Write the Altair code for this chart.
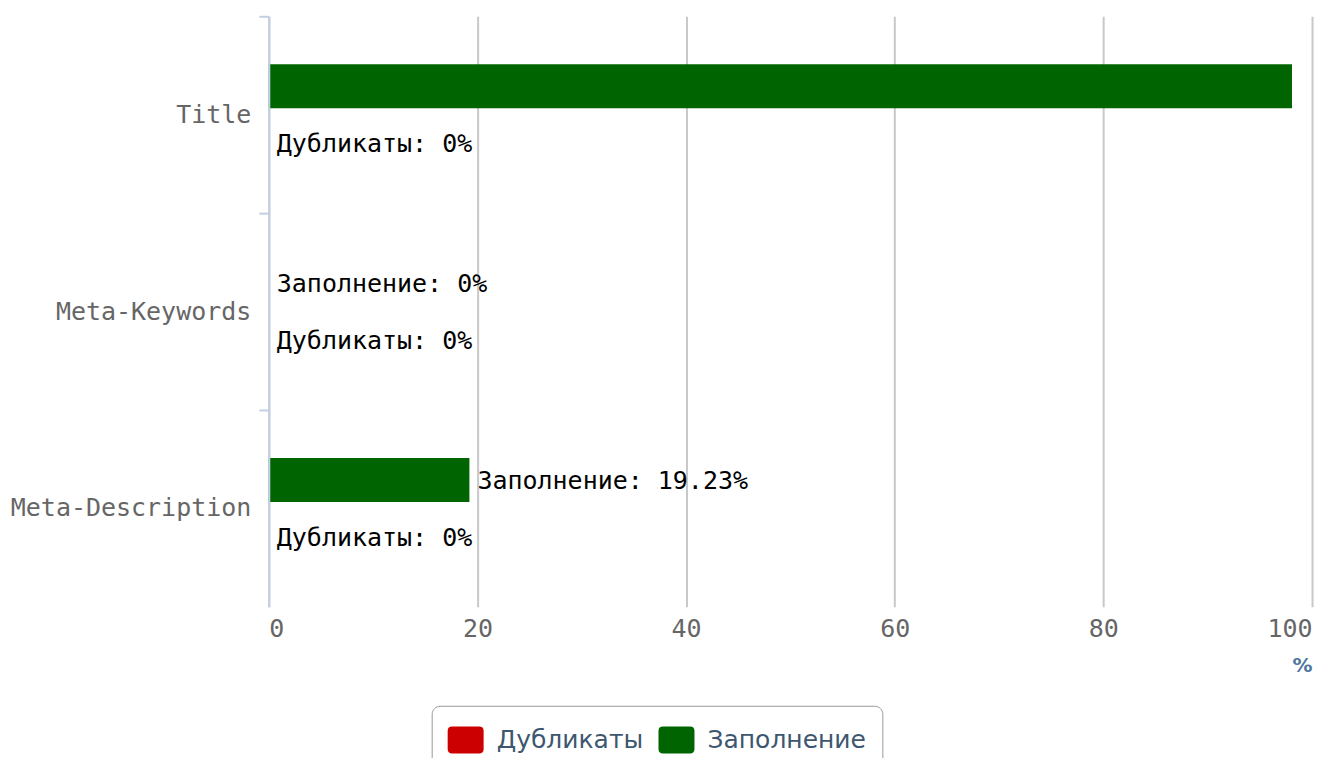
import altair as alt
import pandas as pd

categories = ["Title", "Meta-Keywords", "Meta-Description"]
series = ["Заполнение", "Дубликаты"]
fill_values = [98.08, 0, 19.23]
dup_values = [0, 0, 0]

legend_order = ["Дубликаты", "Заполнение"]
colors = ["#CC0000", "#006400"]

rows = []
for c, f, d in zip(categories, fill_values, dup_values):
    rows.append({"category": c, "series": "Заполнение", "value": f,
                 "label": f"Заполнение: {f:g}%"})
    rows.append({"category": c, "series": "Дубликаты", "value": d,
                 "label": f"Дубликаты: {d:g}%"})
df = pd.DataFrame(rows)

MONO = "DejaVu Sans Mono"
rounded = ("M-0.75,-0.75 H0.75 Q1,-0.75 1,-0.5 V0.5 Q1,0.75 0.75,0.75 "
           "H-0.75 Q-1,0.75 -1,0.5 V-0.5 Q-1,-0.75 -0.75,-0.75 Z")

y_enc = alt.Y("category:N", sort=categories, title=None,
              scale=alt.Scale(paddingInner=0, paddingOuter=0),
              axis=alt.Axis(bandPosition=0, domainColor="#C0D0E0", domainWidth=2,
                            tickColor="#C0D0E0", tickWidth=2, tickSize=10,
                            labelPadding=8, labelFont=MONO, labelFontSize=25,
                            labelLimit=500, zindex=1,
                            labelColor="#666666", grid=False))
yoff_enc = alt.YOffset("series:N", sort=series,
                       scale=alt.Scale(paddingInner=0.228, paddingOuter=0.842))
x_scale = alt.Scale(domain=[0, 100], nice=False)

bars = alt.Chart(df).mark_bar(strokeWidth=0).encode(
    y=y_enc,
    yOffset=yoff_enc,
    x=alt.X("value:Q", scale=x_scale, title="%",
            axis=alt.Axis(values=[0, 20, 40, 60, 80, 100], domain=False, ticks=False,
                          grid=True, gridColor="#C8C8C8", gridWidth=2,
                          labelFont=MONO, labelFontSize=25, labelColor="#666666",
                          labelPadding=10, labelFlush=True,
                          titleAnchor="end", titleFont="DejaVu Sans", titleFontSize=20,
                          titleFontWeight="bold", titleColor="#4D759E", titlePadding=14)),
    color=alt.Color("series:N", scale=alt.Scale(domain=legend_order, range=colors),
                    legend=alt.Legend(title=None, orient="none", direction="horizontal",
                                      legendX=163, legendY=690,
                                      strokeColor="#999999", cornerRadius=8, padding=16,
                                      fillColor="#ffffff",
                                      symbolType=rounded, symbolSize=1296,
                                      symbolStrokeWidth=0, symbolOpacity=1,
                                      labelFont="DejaVu Sans", labelFontSize=25,
                                      labelColor="#3E576F", labelOffset=13,
                                      labelLimit=400,
                                      columnPadding=15)),
)

# the library hides data labels that would overflow the plot on the right
labels = alt.Chart(df).transform_filter("datum.value < 90").mark_text(
    align="left", baseline="middle", dx=8, dy=1, font=MONO, fontSize=25, color="#000000"
).encode(
    y=alt.Y("category:N", sort=categories),
    yOffset=yoff_enc,
    x=alt.X("value:Q", scale=x_scale),
    text="label:N",
)

chart = alt.layer(bars, labels).properties(
    width=1044, height=591,
    padding={"left": 2, "top": 7, "right": 5, "bottom": 0},
).configure_view(stroke=None)

chart.save("out.html", embed_options={"renderer": "svg", "actions": False})
